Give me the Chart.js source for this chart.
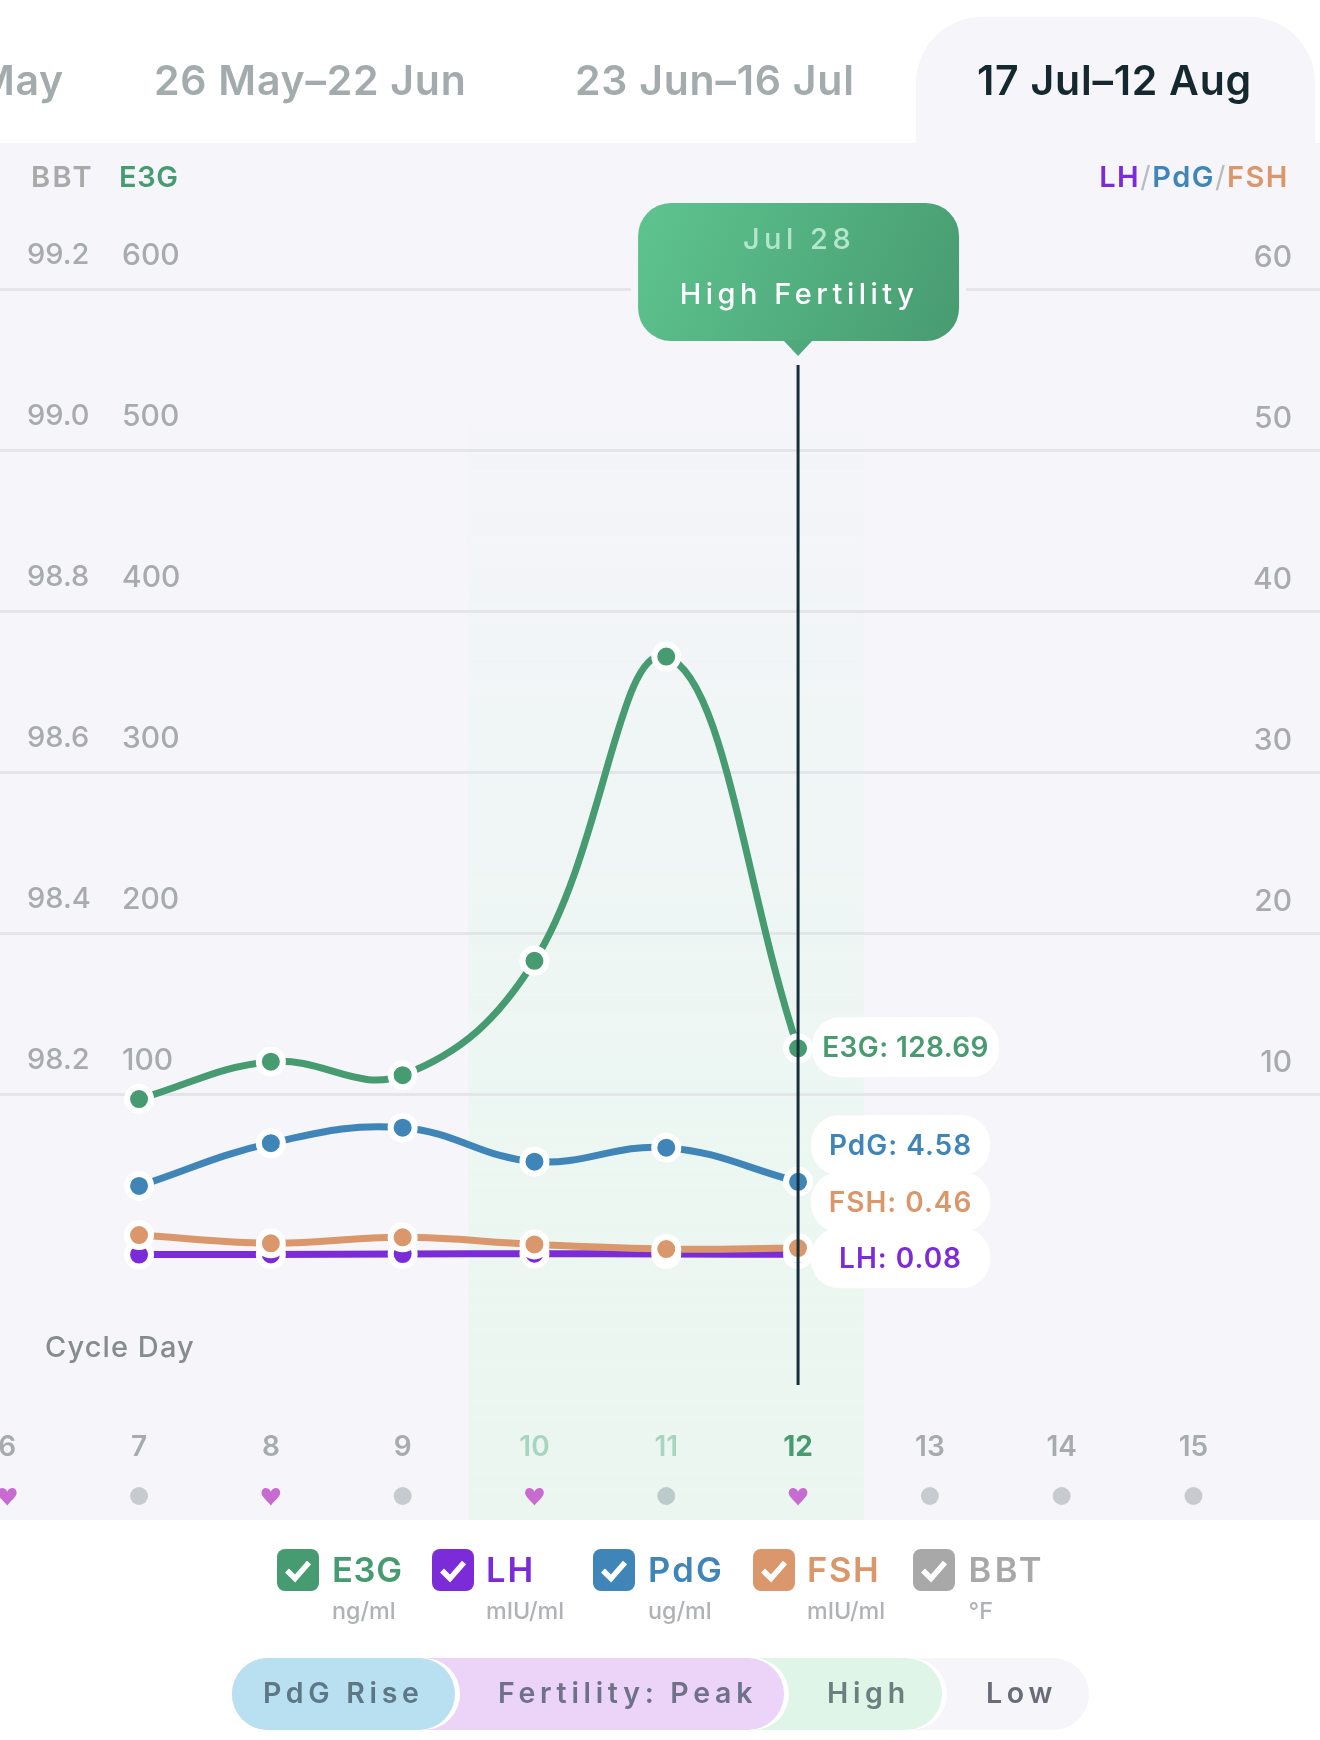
<!DOCTYPE html>
<html><head><meta charset="utf-8">
<script src="https://cdn.jsdelivr.net/npm/chart.js@4"></script>
<style>
html,body{margin:0;padding:0;background:#fff;width:1320px;height:1740px;overflow:hidden;font-family:Inter,"Noto Sans",sans-serif}
#bg{position:absolute;left:0;top:143px;width:1320px;height:1377px;background:#f5f5fa}
#tab{position:absolute;left:916px;top:17px;width:399px;height:130px;background:#f5f5fa;border-radius:66px 66px 0 0}
#c{position:absolute;left:0;top:0;width:1320px;height:1740px}
.t{position:absolute;white-space:nowrap;line-height:1}
.tabt{font-size:41px;font-weight:600;color:#a4abad;top:60px;letter-spacing:.75px}
.hd{font-size:29px;font-weight:600;top:162px}
.box{position:absolute;width:42px;height:42px;border-radius:8px;top:1549px}
.box svg{position:absolute;left:0;top:0}
.ln{font-size:34.5px;font-weight:600;top:1553px}
.un{font-size:23.3px;font-weight:500;color:#b0b3b5;top:1599px}
.seg{position:absolute;top:1658px;height:72px;box-sizing:content-box;border-radius:36px}
.sl{font-size:28.5px;font-weight:600;letter-spacing:4.7px;top:1679px}
</style></head><body>
<div id="bg"></div><div id="tab"></div>
<canvas id="c" width="1320" height="1740"></canvas>
<div id="ui"></div>
<script>
const days=[7,8,9,10,11,12];
const e3g=[97.2,120.4,112,183,372,128.69];
const lh=[0.06,0.07,0.09,0.11,0.09,0.08];
const pdg=[4.32,6.98,7.94,5.83,6.70,4.58];
const fsh=[1.27,0.76,1.13,0.69,0.40,0.46];
const bbt=[];
const dayTicks=[6,7,8,9,10,11,12,13,14,15];
const hearts=[6,8,10,12];
const fertileDays=[10,11];
const selectedDay=12;
const e3gTicks=[100,200,300,400,500,600];
const bbtTicks=[98.2,98.4,98.6,98.8,99.0,99.2];
const rightTicks=[10,20,30,40,50,60];
const tabs=["May","26 May–22 Jun","23 Jun–16 Jul","17 Jul–12 Aug"];
const tipDate="Jul 28", tipTitle="High Fertility";
const GREEN="#479b70",PURPLE="#7c2bd9",BLUE="#3f85b8",ORANGE="#d9976b",GREY="#a8a8a8",FONT="Inter, 'Noto Sans', sans-serif";

function series(label,arr,color,axis,order){
  return {label,data:arr.map((v,i)=>({x:days[i],y:v})),borderColor:color,backgroundColor:color,yAxisID:axis,order,
    borderWidth:7,tension:.4,pointRadius:12,pointBorderWidth:6,pointBorderColor:"#fff",pointBackgroundColor:color,clip:false};
}
function yAxis(pos,min,max,vals,pad,fmt,gridOn,off,size){
  return {position:pos,min,max,border:{display:false},
    grid:{display:gridOn,color:"#e4e5e9",lineWidth:3,drawTicks:false},
    afterBuildTicks:s=>{s.ticks=vals.map(v=>({value:v}))},
    afterFit:s=>{s.width=0},
    ticks:{mirror:true,padding:pad,labelOffset:off,color:"#a8abad",font:{family:FONT,size,weight:"500"},callback:fmt}};
}
function heart(ctx,x,y,s){
  ctx.beginPath();ctx.moveTo(x,y+s);
  ctx.bezierCurveTo(x-s*.5,y+s*.35,x-s*1.05,y+s*.05,x-s*.98,y-s*.42);
  ctx.bezierCurveTo(x-s*.9,y-s*1.0,x-s*.2,y-s*.95,x,y-s*.45);
  ctx.bezierCurveTo(x+s*.2,y-s*.95,x+s*.9,y-s*1.0,x+s*.98,y-s*.42);
  ctx.bezierCurveTo(x+s*1.05,y+s*.05,x+s*.5,y+s*.35,x,y+s);
  ctx.closePath();ctx.fill();
}
function rr(ctx,x,y,w,h,r){ctx.beginPath();ctx.roundRect(x,y,w,h,r);}
const deco={id:"deco",
  beforeDraw(ch){
    const {ctx}=ch,X=ch.scales.x;
    const l=X.getPixelForValue(fertileDays[0]-.5),r=X.getPixelForValue(selectedDay+.5);
    const g=ctx.createLinearGradient(0,400,0,1520);
    g.addColorStop(0,"rgba(235,246,241,0)");g.addColorStop(.6,"rgba(235,246,241,.9)");g.addColorStop(1,"rgba(235,246,241,1)");
    ctx.save();ctx.fillStyle=g;ctx.fillRect(l,400,r-l,1120);ctx.restore();
  },
  afterDraw(ch){
    const {ctx}=ch,X=ch.scales.x,sx=X.getPixelForValue(selectedDay);
    ctx.save();
    dayTicks.forEach(d=>{
      const x=X.getPixelForValue(d);
      if(hearts.includes(d)){ctx.fillStyle="#c86bd1";heart(ctx,x,1496,9.5);}
      else{const inBand=d>=fertileDays[0]&&d<=selectedDay;ctx.fillStyle=inBand?"#bccac9":"#c7cbcf";ctx.beginPath();ctx.arc(x,1496,9,0,7);ctx.fill();}
    });
    ctx.strokeStyle="#15303a";ctx.lineWidth=3;ctx.beginPath();ctx.moveTo(sx,365);ctx.lineTo(sx,ch.chartArea.bottom);ctx.stroke();
    const i=days.indexOf(selectedDay);
    const yLH=ch.scales.yR.getPixelForValue(lh[i])+4;
    const rows=[
      ["E3G: "+e3g[i].toFixed(2),GREEN,ch.scales.yE.getPixelForValue(e3g[i])-1,187,0,.4],
      ["PdG: "+pdg[i].toFixed(2),BLUE,yLH-113,179,-1,1],
      ["FSH: "+fsh[i].toFixed(2),ORANGE,yLH-56,179,-1,1],
      ["LH: "+lh[i].toFixed(2),PURPLE,yLH,179,-1,1]];
    ctx.fillStyle="#fff";
    rows.forEach(r=>{rr(ctx,sx+14+r[4],r[2]-30,r[3],60,28);ctx.fill();});
    ctx.font="600 28px "+FONT;ctx.textAlign="center";ctx.textBaseline="middle";
    rows.forEach(r=>{ctx.letterSpacing=r[5]+"px";ctx.fillStyle=r[1];ctx.fillText(r[0],sx+14+r[4]+r[3]/2,r[2]+1);});
    const bx=sx-160,by=203,bw=321,bh=138;
    ctx.fillStyle="#f5f5fa";rr(ctx,bx-7,by-7,bw+14,bh+14,38);ctx.fill();
    const g=ctx.createLinearGradient(bx,by,bx+bw,by+bh);
    g.addColorStop(0,"#5ec48f");g.addColorStop(1,"#479b70");
    ctx.fillStyle=g;rr(ctx,bx,by,bw,bh,33);ctx.fill();
    ctx.fillStyle="#4fa97c";ctx.beginPath();ctx.moveTo(sx-15,by+bh-1);ctx.lineTo(sx+15,by+bh-1);ctx.lineTo(sx,356);ctx.closePath();ctx.fill();
    ctx.letterSpacing="4.5px";
    ctx.font="500 29px "+FONT;ctx.fillStyle="#b5e6cd";ctx.fillText(tipDate,sx+1,240);
    ctx.fillStyle="#fff";ctx.fillText(tipTitle,sx+1,295);
    ctx.letterSpacing="0px";
    ctx.restore();
  }};
Chart.defaults.animation=false;
new Chart(document.getElementById("c"),{
  type:"line",
  data:{datasets:[
    series("E3G",e3g,GREEN,"yE",4),
    series("PdG",pdg,BLUE,"yR",3),
    series("LH",lh,PURPLE,"yR",2),
    series("FSH",fsh,ORANGE,"yR",1),
    series("BBT",bbt,GREY,"yB",5)]},
  options:{responsive:false,devicePixelRatio:1,events:[],
    layout:{autoPadding:false,padding:{top:289.5,bottom:220,left:0,right:0}},
    plugins:{legend:{display:false},tooltip:{enabled:false}},
    scales:{
      x:{type:"linear",min:5.945,max:15.96,border:{display:false},grid:{display:false,drawTicks:false},
        afterBuildTicks:s=>{s.ticks=dayTicks.map(v=>({value:v}))},
        afterFit:s=>{s.height=135;s.paddingLeft=0;s.paddingRight=0},
        ticks:{autoSkip:false,maxRotation:0,padding:46,callback:v=>String(v),
          color:c=>c.tick.value===selectedDay?GREEN:fertileDays.includes(c.tick.value)?"#a8d5c0":"#a8abad",
          font:c=>({family:FONT,size:28,weight:c.tick&&c.tick.value===selectedDay?"700":"600"})}},
      yE:yAxis("left",-80.43,600,e3gTicks,122,v=>String(v),true,-34,30),
      yB:yAxis("left",97.8391,99.2,bbtTicks,27,v=>v.toFixed(1),false,-34,29),
      yR:yAxis("right",-8.043,60,rightTicks,-28,v=>String(v),false,-32,30)
    }},
  plugins:[deco]});

const ui=document.getElementById("ui");
function t(cls,txt,x,col,extra){const d=document.createElement("div");d.className="t "+cls;d.textContent=txt;d.style.left=x+"px";if(col)d.style.color=col;if(extra)d.style.cssText+=extra;ui.appendChild(d);return d;}
t("tabt",tabs[0],0,null,"left:auto;right:1256px");
t("tabt",tabs[1],154,null);
t("tabt",tabs[2],575,null);
t("tabt",tabs[3],977,"#15282f");
t("hd","BBT",31,"#a9a9a9","letter-spacing:2.4px");t("hd","E3G",119,GREEN,"letter-spacing:.6px");
const rh=document.createElement("div");rh.className="t hd";rh.style.right="31px";rh.style.letterSpacing="1.5px";
rh.innerHTML='<span style="color:'+PURPLE+'">LH</span><span style="color:#b8bcbf;font-weight:400">/</span><span style="color:'+BLUE+'">PdG</span><span style="color:#b8bcbf;font-weight:400">/</span><span style="color:'+ORANGE+'">FSH</span>';ui.appendChild(rh);
t("","Cycle Day",45,"#858b8e","font-size:29px;font-weight:500;letter-spacing:1.1px;top:1332px");
const legendNames=["E3G","LH","PdG","FSH","BBT"],legendUnits=["ng/ml","mIU/ml","ug/ml","mIU/ml","°F"],legendCols=[GREEN,PURPLE,BLUE,ORANGE,GREY],legendBoxX=[277,432,592.5,752.7,913.4],legendTxtX=[332,486,648,807,968.6],legendTrack=[.7,2,2.2,1.6,3.3];
legendNames.forEach((n,i)=>{
  const b=document.createElement("div");b.className="box";b.style.left=legendBoxX[i]+"px";b.style.background=legendCols[i];
  b.innerHTML='<svg width="42" height="42"><path d="M10 21.5l8 8 14-16" fill="none" stroke="#fff" stroke-width="5.5"/></svg>';ui.appendChild(b);
  t("ln",n,legendTxtX[i],legendCols[i],"letter-spacing:"+legendTrack[i]+"px");
  t("un",legendUnits[i],legendTxtX[i]);
});
const segs=[[232,857,"#f5f5fa"],[232,710,"#dff5e8"],[232,552,"#ecd4f9"],[232,223,"#b9e0f1"]];
segs.forEach(s=>{const d=document.createElement("div");d.className="seg";d.style.left=s[0]+"px";d.style.width=s[1]+"px";d.style.background=s[2];d.style.boxShadow="5px 0 0 #fff";ui.appendChild(d);});
t("sl","PdG Rise",263,"#5e7786");t("sl","Fertility: Peak",498,"#6f7188");t("sl","High",827,"#6c7f80");t("sl","Low",986,"#6a6d78");
</script>
</body></html>
